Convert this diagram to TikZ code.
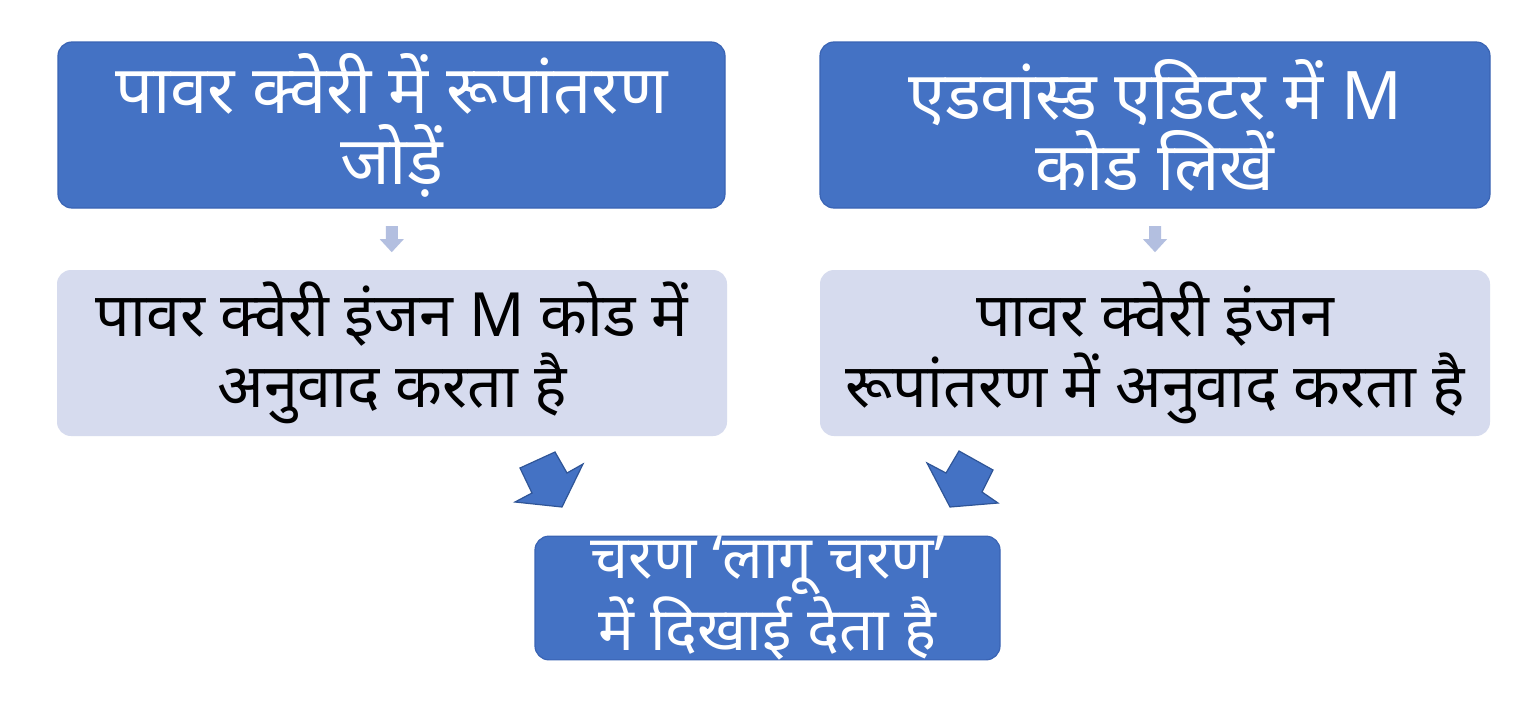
\documentclass[tikz,border=0pt]{standalone}
\usepackage{fontspec}
\usetikzlibrary{calc}
\newfontfamily\deva[Script=Devanagari]{Noto Sans}
\definecolor{dkblue}{HTML}{4472C4}
\definecolor{dkedge}{HTML}{3A64B4}
\definecolor{ltbox}{HTML}{D6DBEE}
\definecolor{smarrow}{HTML}{B3BFE0}
\definecolor{bgedge}{HTML}{2F5597}
\begin{document}
\begin{tikzpicture}[x=1pt,y=-1pt,
  darkbox/.style={rectangle,rounded corners=14pt,fill=dkblue,draw=dkedge,line width=1.2pt,
     text=white,align=center,font=\deva\fontsize{67}{71}\selectfont,inner sep=0pt},
  lightbox/.style={rectangle,rounded corners=14pt,fill=ltbox,draw=none,
     text=black,align=center,font=\deva\fontsize{61}{71}\selectfont,inner sep=0pt},
  bottombox/.style={darkbox,font=\deva\fontsize{60}{66}\selectfont},
  smallarrow/.style={fill=smarrow,draw=none},
  bigarrow/.style={fill=dkblue,draw=bgedge,line width=1.2pt,line join=miter}]
\useasboundingbox[fill=white] (0,0) rectangle (1528,704);
% boxes
\node[darkbox,minimum width=667pt,minimum height=166pt] (tl) at (391.5,125) {पावर क्वेरी में रूपांतरण\\जोड़ें};
\node[darkbox,minimum width=670pt,minimum height=166pt] (tr) at (1155,125) {एडवांस्ड एडिटर में M\\कोड लिखें};
\node[lightbox,minimum width=670pt,minimum height=166pt] (ml) at (392,353) {पावर क्वेरी इंजन M कोड में\\अनुवाद करता है};
\node[lightbox,minimum width=670pt,minimum height=166pt] (mr) at (1155,353) {पावर क्वेरी इंजन\\रूपांतरण में अनुवाद करता है};
\node[bottombox,minimum width=465pt,minimum height=123pt] (bt) at (767.5,598) {चरण ‘लागू चरण’\\में दिखाई देता है};
% small arrows
\coordinate (la) at ($(tl.south)!0.5!(ml.north)$);
\coordinate (ra) at ($(tr.south)!0.5!(mr.north)$);
\foreach \c in {la,ra}{
  \fill[smallarrow,shift={(\c)}] (-6,-13) -- (6,-13) -- (6,0) -- (12,0) -- (0,13) -- (-12,0) -- (-6,0) -- cycle;
}
% big arrows
\draw[bigarrow] (520,468) -- (555,452) -- (567,473) -- (583,464) -- (562,507) -- (515,502) -- (532,493) -- cycle;
\draw[bigarrow] (927,463) -- (946,473) -- (959,451) -- (993,470) -- (982,492) -- (998,503) -- (950,507) -- cycle;
\end{tikzpicture}
\end{document}
